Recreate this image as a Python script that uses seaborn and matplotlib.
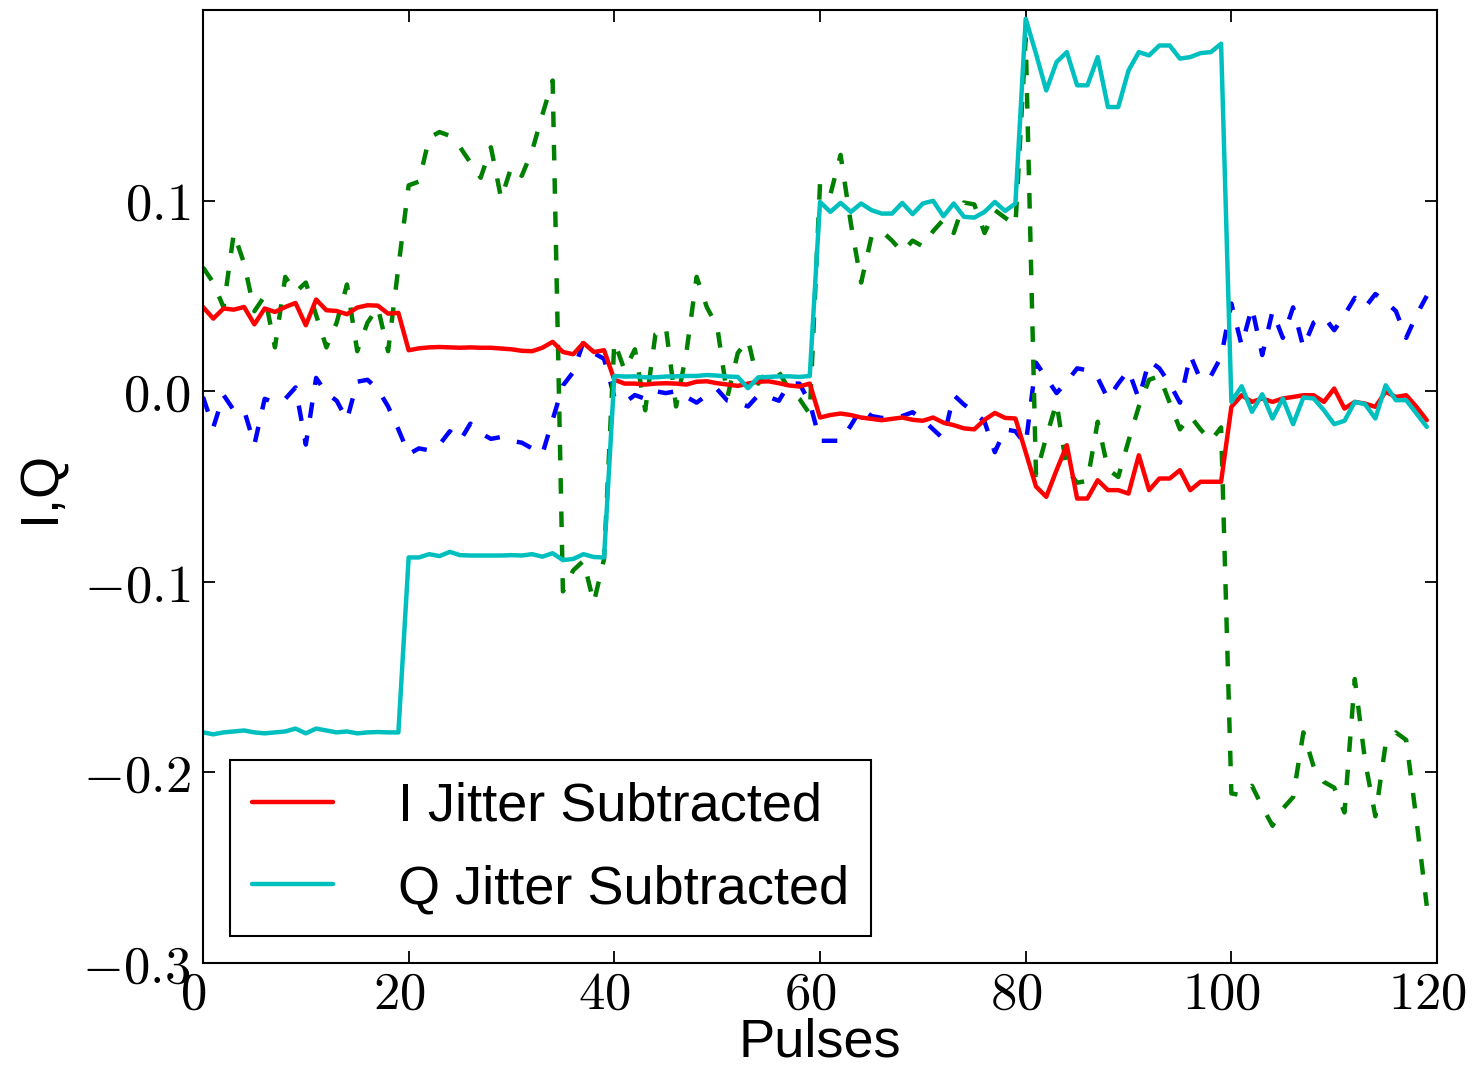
import matplotlib
matplotlib.use("Agg")
import matplotlib.pyplot as plt
import matplotlib.transforms as mtransforms
from matplotlib.ticker import FuncFormatter, FixedLocator
import pandas as pd
import seaborn as sns

# Pulse index
pulses = list(range(120))

# Raw I and Q (dashed)
i_raw = [
    -0.003, -0.019, -0.002, -0.010, -0.010, -0.028, -0.004, -0.006, -0.004, 0.002,
    -0.028, 0.007, -0.001, -0.005, -0.015, 0.005, 0.006, 0.001, -0.008, -0.020,
    -0.033, -0.030, -0.031, -0.028, -0.021, -0.026, -0.017, -0.022, -0.025, -0.024,
    -0.026, -0.027, -0.030, -0.033, -0.015, 0.003, 0.010, 0.026, 0.020, 0.017,
    -0.003, -0.006, -0.002, -0.004, 0.000, -0.001, 0.000, -0.003, -0.006, -0.002,
    0.001, -0.005, -0.006, -0.008, -0.002, -0.003, -0.005, 0.004, 0.004, -0.006,
    -0.026, -0.026, -0.026, -0.018, -0.009, -0.013, -0.014, -0.014, -0.013, -0.011,
    -0.015, -0.020, -0.025, -0.002, -0.007, -0.011, -0.016, -0.032, -0.020, -0.021,
    -0.028, 0.015, 0.007, -0.001, 0.005, 0.012, 0.011, 0.007, -0.004, 0.004,
    0.011, -0.004, 0.016, 0.012, 0.004, -0.006, 0.019, 0.006, 0.008, 0.018,
    0.046, 0.024, 0.044, 0.019, 0.042, 0.028, 0.044, 0.023, 0.036, 0.039,
    0.032, 0.040, 0.049, 0.044, 0.051, 0.047, 0.042, 0.028, 0.040, 0.050,
]
q_raw = [
    0.065, 0.057, 0.044, 0.083, 0.067, 0.042, 0.050, 0.023, 0.060, 0.052,
    0.057, 0.040, 0.023, 0.036, 0.056, 0.021, 0.036, 0.044, 0.021, 0.065,
    0.108, 0.110, 0.133, 0.136, 0.134, 0.128, 0.120, 0.112, 0.128, 0.101,
    0.118, 0.113, 0.126, 0.145, 0.163, -0.105, -0.094, -0.089, -0.111, -0.088,
    0.026, 0.011, 0.022, -0.010, 0.030, 0.034, -0.008, 0.020, 0.060, 0.044,
    0.034, -0.003, 0.020, 0.027, 0.004, 0.011, 0.010, 0.001, -0.004, -0.012,
    0.109, 0.103, 0.124, 0.088, 0.057, 0.081, 0.084, 0.079, 0.073, 0.079,
    0.076, 0.084, 0.090, 0.083, 0.099, 0.098, 0.083, 0.095, 0.091, 0.087,
    0.185, -0.044, -0.024, -0.006, -0.041, -0.048, -0.047, -0.016, -0.041, -0.045,
    -0.026, -0.008, 0.006, 0.008, -0.006, -0.020, -0.013, -0.020, -0.026, -0.019,
    -0.211, -0.212, -0.207, -0.218, -0.228, -0.219, -0.213, -0.179, -0.197, -0.205,
    -0.208, -0.221, -0.151, -0.194, -0.223, -0.185, -0.179, -0.183, -0.225, -0.270,
]

# Jitter-subtracted I and Q (solid)
i_sub = [
    0.0442, 0.0381, 0.0434, 0.0428, 0.0442, 0.0351, 0.0434, 0.0416, 0.0442, 0.0463,
    0.0346, 0.0481, 0.0425, 0.0421, 0.0404, 0.0439, 0.0451, 0.0449, 0.0407, 0.0411,
    0.0215, 0.0225, 0.0230, 0.0232, 0.0230, 0.0228, 0.0230, 0.0228, 0.0228, 0.0224,
    0.0220, 0.0212, 0.0210, 0.0228, 0.0259, 0.0206, 0.0194, 0.0253, 0.0206, 0.0215,
    0.0060, 0.0040, 0.0040, 0.0035, 0.0040, 0.0042, 0.0040, 0.0035, 0.0050, 0.0052,
    0.0042, 0.0035, 0.0028, 0.0040, 0.0050, 0.0052, 0.0042, 0.0030, 0.0025, 0.0040,
    -0.0138, -0.0125, -0.0117, -0.0125, -0.0138, -0.0145, -0.0152, -0.0145, -0.0138, -0.0150,
    -0.0155, -0.0138, -0.0165, -0.0178, -0.0195, -0.0200, -0.0150, -0.0114, -0.0140, -0.0143,
    -0.0320, -0.0500, -0.0554, -0.0414, -0.0283, -0.0563, -0.0563, -0.0467, -0.0519, -0.0519,
    -0.0537, -0.0336, -0.0519, -0.0458, -0.0458, -0.0414, -0.0519, -0.0475, -0.0475, -0.0475,
    -0.0082, -0.0021, -0.0056, -0.0038, -0.0056, -0.0038, -0.0030, -0.0021, -0.0021, -0.0056,
    0.0014, -0.0091, -0.0056, -0.0065, -0.0082, -0.0003, -0.0030, -0.0021, -0.0082, -0.0152,
]
q_sub = [
    -0.1790, -0.1800, -0.1790, -0.1785, -0.1780, -0.1790, -0.1795, -0.1790, -0.1785, -0.1770,
    -0.1795, -0.1770, -0.1780, -0.1790, -0.1785, -0.1795, -0.1790, -0.1788, -0.1790, -0.1790,
    -0.0872, -0.0872, -0.0855, -0.0865, -0.0843, -0.0860, -0.0862, -0.0862, -0.0862, -0.0862,
    -0.0860, -0.0862, -0.0855, -0.0868, -0.0850, -0.0886, -0.0880, -0.0855, -0.0870, -0.0872,
    0.0080, 0.0077, 0.0078, 0.0073, 0.0073, 0.0077, 0.0078, 0.0080, 0.0080, 0.0085,
    0.0082, 0.0077, 0.0075, 0.0016, 0.0073, 0.0075, 0.0078, 0.0078, 0.0075, 0.0080,
    0.0993, 0.0941, 0.0988, 0.0941, 0.0985, 0.0950, 0.0932, 0.0932, 0.0988, 0.0929,
    0.0985, 0.0999, 0.0918, 0.0985, 0.0915, 0.0911, 0.0941, 0.0993, 0.0946, 0.0985,
    0.1954, 0.1771, 0.1578, 0.1727, 0.1779, 0.1605, 0.1605, 0.1753, 0.1491, 0.1491,
    0.1683, 0.1779, 0.1762, 0.1814, 0.1814, 0.1745, 0.1753, 0.1774, 0.1779, 0.1823,
    -0.0056, 0.0026, -0.0108, -0.0016, -0.0143, -0.0038, -0.0173, -0.0033, -0.0038, -0.0100,
    -0.0173, -0.0155, -0.0056, -0.0068, -0.0143, 0.0031, -0.0047, -0.0047, -0.0117, -0.0187,
]

x_ticks = [0, 20, 40, 60, 80, 100, 120]
y_ticks = [-0.3, -0.2, -0.1, 0.0, 0.1]
legend_labels = ["I Jitter Subtracted", "Q Jitter Subtracted"]

sns.set_theme(style="white")
plt.rcParams.update({
    "font.family": ["Liberation Sans", "DejaVu Sans"],
    "mathtext.fontset": "cm",
    "text.color": "black",
    "axes.labelcolor": "black",
    "axes.edgecolor": "black",
    "axes.linewidth": 1.5,
    "xtick.direction": "in",
    "ytick.direction": "in",
    "xtick.top": True,
    "ytick.right": True,
    "xtick.bottom": True,
    "ytick.left": True,
    "xtick.major.size": 8.5,
    "ytick.major.size": 8.5,
    "xtick.major.width": 1.3,
    "ytick.major.width": 1.3,
    "xtick.color": "black",
    "ytick.color": "black",
    "xtick.labelcolor": "black",
    "ytick.labelcolor": "black",
})

df = pd.DataFrame({"pulse": pulses, "i_raw": i_raw, "q_raw": q_raw,
                   "i_sub": i_sub, "q_sub": q_sub})

fig = plt.figure(figsize=(14.73, 10.66), dpi=100)
ax = fig.add_axes([0.1378, 0.0966, 0.9756 - 0.1378, 0.9906 - 0.0966])

lw = 3.2
dash = (0, (3.5, 4.0))
sns.lineplot(data=df, x="pulse", y="i_raw", ax=ax, color="#0000ff", linewidth=lw,
             linestyle=dash, errorbar=None, legend=False)
sns.lineplot(data=df, x="pulse", y="q_raw", ax=ax, color="#008000", linewidth=lw,
             linestyle=dash, errorbar=None, legend=False)
sns.lineplot(data=df, x="pulse", y="i_sub", ax=ax, color="#ff0000", linewidth=lw,
             errorbar=None, legend=False, label=legend_labels[0])
sns.lineplot(data=df, x="pulse", y="q_sub", ax=ax, color="#00bfbf", linewidth=lw,
             errorbar=None, legend=False, label=legend_labels[1])

ax.set_xlim(0, 120)
ax.set_ylim(-0.3, 0.2)
ax.xaxis.set_major_locator(FixedLocator(x_ticks))
ax.yaxis.set_major_locator(FixedLocator(y_ticks))
ax.xaxis.set_major_formatter(FuncFormatter(lambda v, p: f"${int(round(v))}$"))
ax.yaxis.set_major_formatter(FuncFormatter(lambda v, p: f"${v:.1f}$"))
ax.tick_params(axis="x", labelsize=38, pad=5)
ax.tick_params(axis="y", labelsize=38, pad=9)

# nudge the x tick labels slightly left so the last one stays inside the canvas
shift = mtransforms.ScaledTranslation(-7 / 72, 0, fig.dpi_scale_trans)
for lab in ax.get_xticklabels():
    lab.set_transform(lab.get_transform() + shift)

ax.set_xlabel("Pulses", fontsize=39, labelpad=-2)
ax.set_ylabel("I,Q", fontsize=39, labelpad=12)

leg = ax.legend(loc="lower left", fontsize=39, frameon=True, fancybox=False,
                framealpha=1.0, edgecolor="black", borderpad=0.4,
                labelspacing=0.6, handlelength=1.5, handletextpad=1.2,
                borderaxespad=0.5)
leg.get_frame().set_linewidth(1.5)

fig.savefig("out.png", dpi=100, facecolor="white")
